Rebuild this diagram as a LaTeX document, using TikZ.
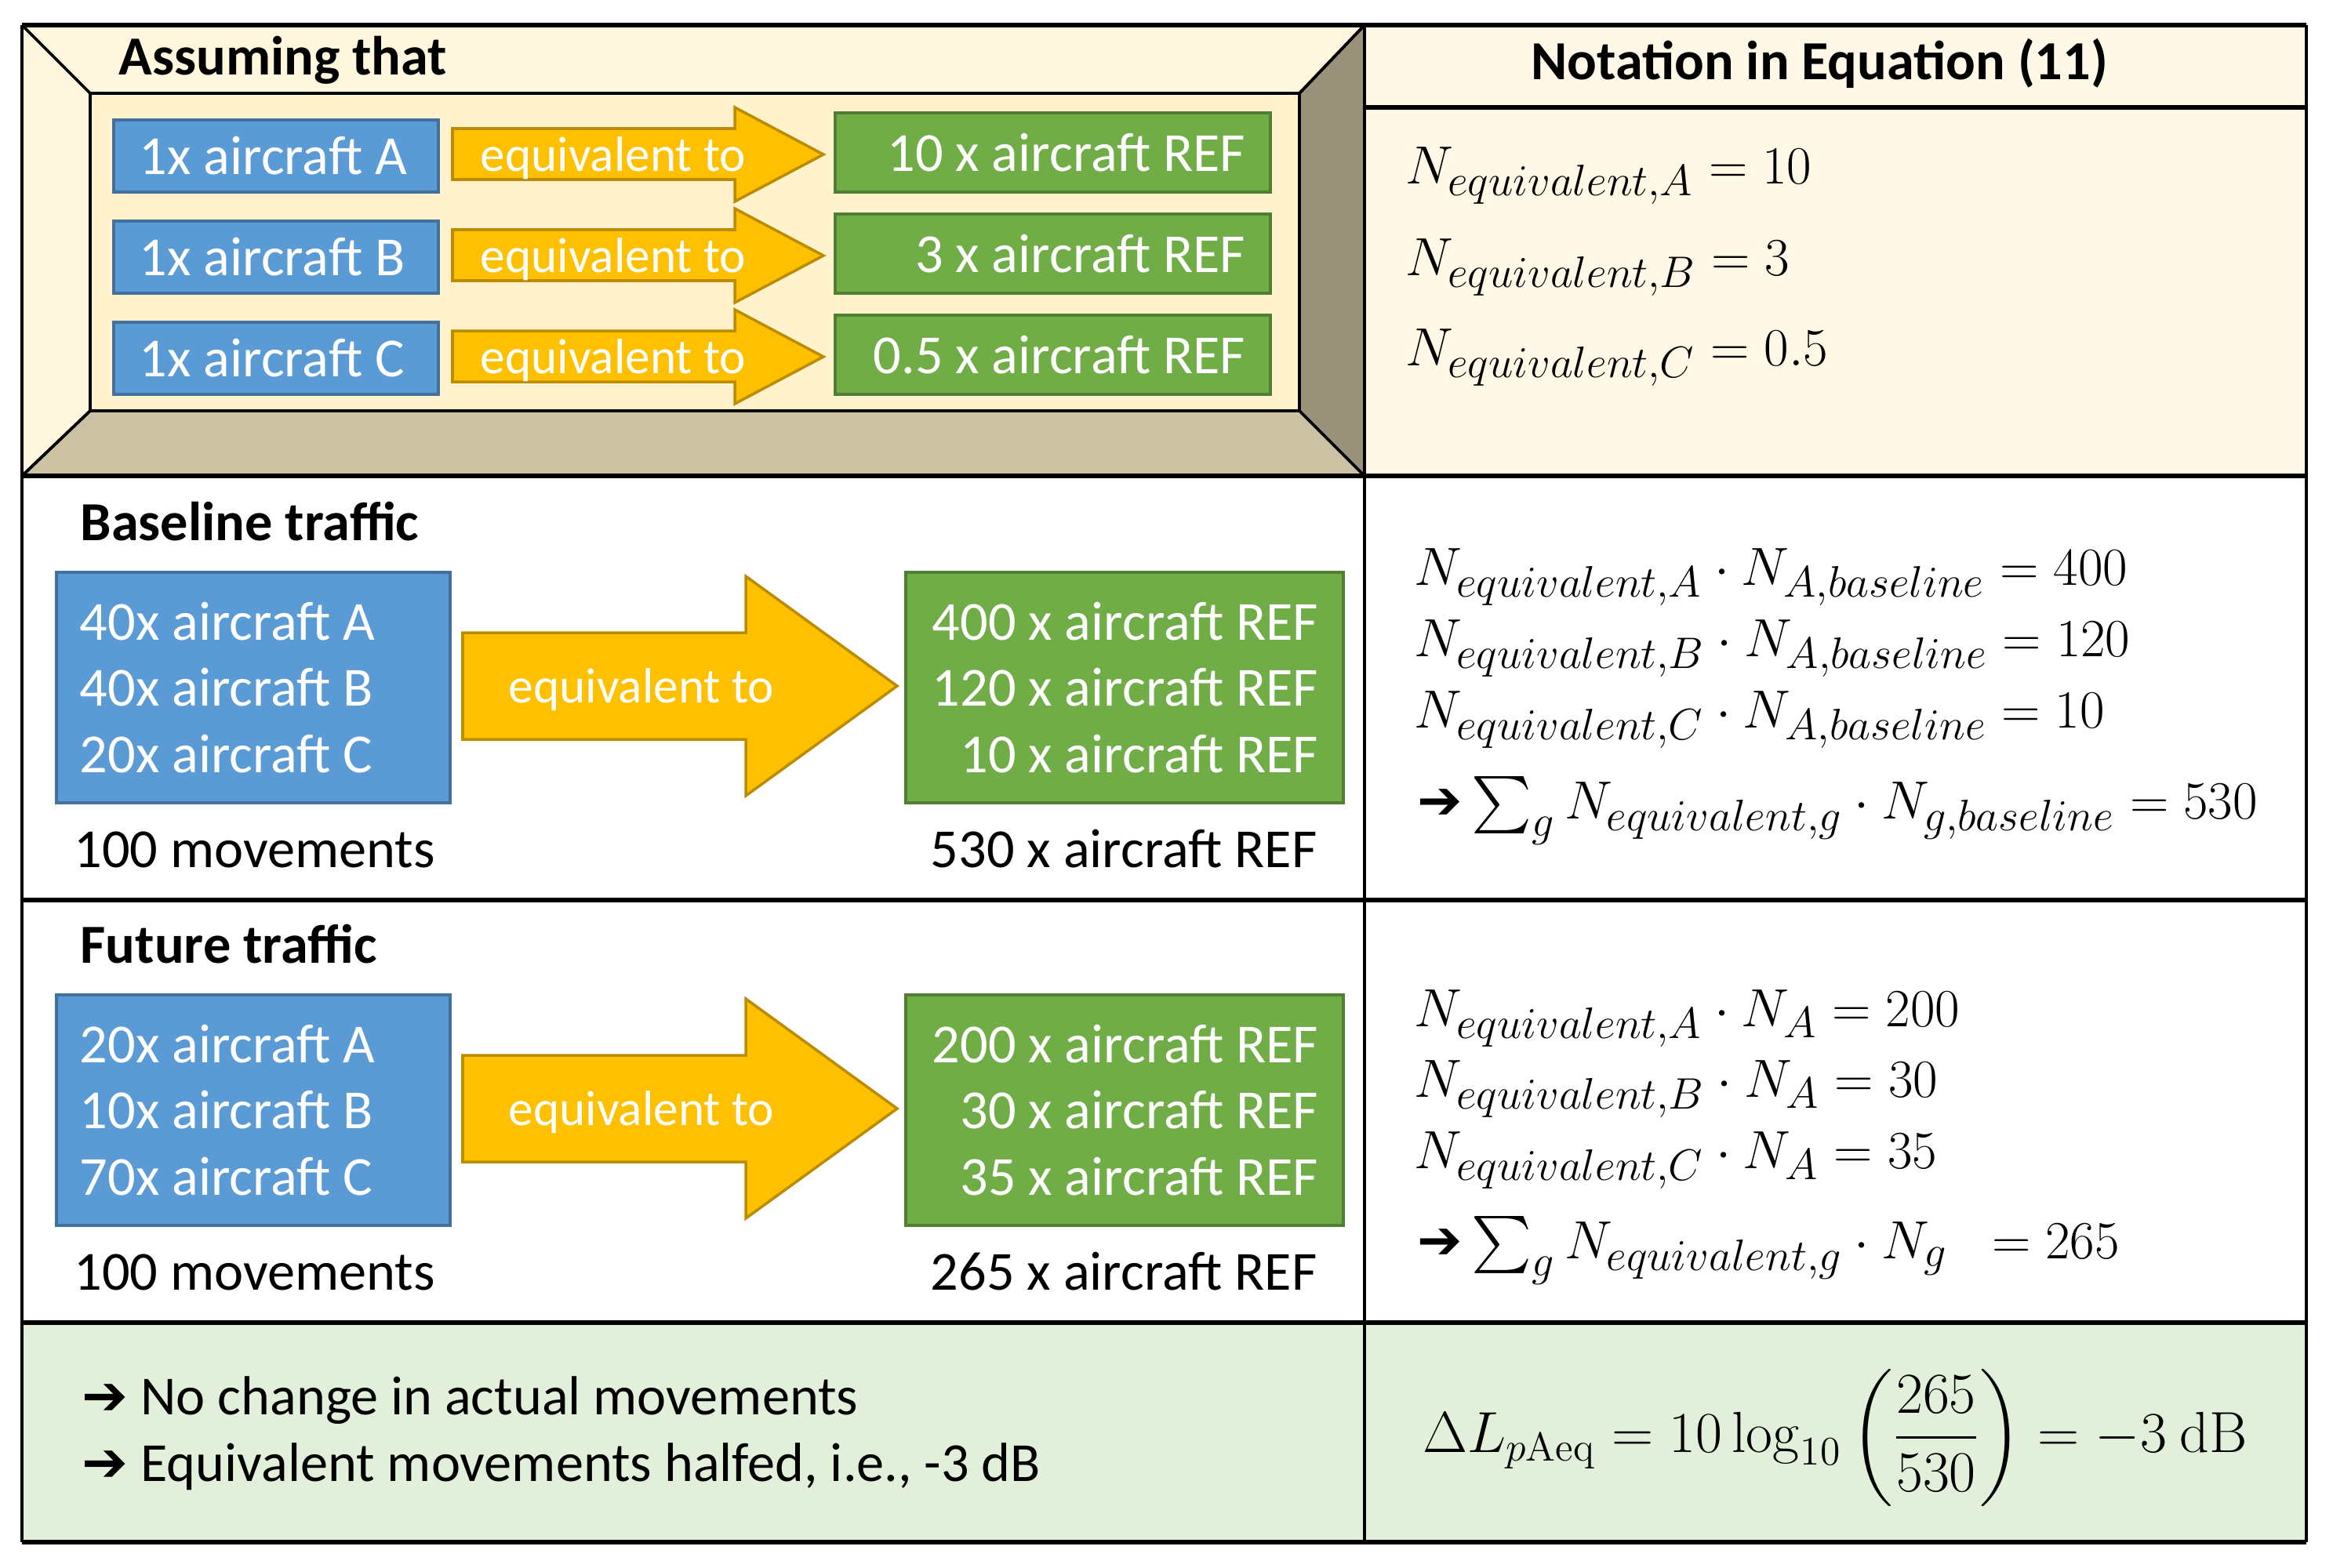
\RequirePackage{fix-cm}
\documentclass[tikz,border=0pt]{standalone}
\usepackage[no-math]{fontspec}
\usepackage{amsmath}
\setmainfont{Carlito}
\newfontfamily\arrowfont{DejaVu Sans}
\newcommand{\thenarrow}{{\arrowfont ➔}}
\DeclareMathSizes{19.5}{19.5}{16}{12}

\definecolor{boxblue}{HTML}{5B9BD5}
\definecolor{boxblueline}{HTML}{41719C}
\definecolor{boxgreen}{HTML}{70AD47}
\definecolor{boxgreenline}{HTML}{507E32}
\definecolor{arrowyellow}{HTML}{FFC000}
\definecolor{arrowline}{HTML}{BC8C00}
\definecolor{bevelface}{HTML}{FFF2CC}
\definecolor{bevellight}{HTML}{FFF6DE}
\definecolor{beveldark}{HTML}{CCC2A3}
\definecolor{bevelshade}{HTML}{99917A}
\definecolor{notefill}{HTML}{FFF8E6}
\definecolor{sumfill}{HTML}{E2EFDA}

\tikzstyle{plain}=[inner sep=0pt, font=\fontsize{20}{24}\selectfont]
\tikzstyle{heading}=[inner sep=0pt, font=\fontsize{20}{24}\selectfont\bfseries]
\tikzstyle{eqn}=[inner sep=0pt, anchor=base west, font=\fontsize{19.5}{23}\selectfont]
\tikzstyle{cell}=[draw, line width=1.1pt, inner sep=0pt]
\tikzstyle{bluecell}=[cell, fill=boxblue, draw=boxblueline]
\tikzstyle{greencell}=[cell, fill=boxgreen, draw=boxgreenline]
\tikzstyle{celltext}=[inner sep=0pt, text=white, font=\fontsize{20}{24}\selectfont]
\tikzstyle{yarrow}=[fill=arrowyellow, draw=arrowline, line width=1pt, line join=miter]
\tikzstyle{arrowtext}=[inner sep=0pt, anchor=base, text=white, font=\fontsize{18}{22}\selectfont]
\tikzstyle{hrule}=[line width=1.8pt]
\tikzstyle{vrule}=[line width=1.3pt]

\begin{document}
\begin{tikzpicture}[x=1cm, y=-1cm]
    \useasboundingbox (0,0) rectangle (29.75,20);

    % cell backgrounds
    \fill[notefill] (17.40,0.32) rectangle (29.41,6.07);
    \fill[sumfill] (0.28,16.87) rectangle (29.41,19.67);

    % bevelled frame round the assumptions
    \fill[bevellight] (0.28,0.32) -- (17.40,0.32) -- (16.57,1.19) -- (1.15,1.19) -- cycle;
    \fill[bevellight] (0.28,0.32) -- (1.15,1.19) -- (1.15,5.24) -- (0.28,6.07) -- cycle;
    \fill[beveldark] (0.28,6.07) -- (1.15,5.24) -- (16.57,5.24) -- (17.40,6.07) -- cycle;
    \fill[bevelshade] (17.40,0.32) -- (17.40,6.07) -- (16.57,5.24) -- (16.57,1.19) -- cycle;
    \filldraw[fill=bevelface, line width=1.1pt] (1.15,1.19) rectangle (16.57,5.24);
    \draw[line width=1.1pt] (0.28,0.32) -- (1.15,1.19);
    \draw[line width=1.1pt] (17.40,0.32) -- (16.57,1.19);
    \draw[line width=1.1pt] (0.28,6.07) -- (1.15,5.24);
    \draw[line width=1.1pt] (17.40,6.07) -- (16.57,5.24);

    \node[heading, anchor=base west] (assume) at (1.51,0.95) {Assuming that};

    \node[bluecell, minimum width=4.14cm, minimum height=0.92cm] (oneA) at (3.52,1.99) {};
    \node[bluecell, minimum width=4.14cm, minimum height=0.92cm] (oneB) at (3.52,3.28) {};
    \node[bluecell, minimum width=4.14cm, minimum height=0.92cm] (oneC) at (3.52,4.57) {};
    \node[celltext, anchor=west] (oneAtext) at ([xshift=0.34cm]oneA.west) {1x aircraft A};
    \node[celltext, anchor=west] (oneBtext) at ([xshift=0.34cm]oneB.west) {1x aircraft B};
    \node[celltext, anchor=west] (oneCtext) at ([xshift=0.34cm]oneC.west) {1x aircraft C};

    \draw[yarrow] (5.77,1.64) -- (9.37,1.64) -- (9.37,1.37) -- (10.50,1.97) -- (9.37,2.57) -- (9.37,2.29) -- (5.77,2.29) -- cycle;
    \draw[yarrow] (5.77,2.93) -- (9.37,2.93) -- (9.37,2.66) -- (10.50,3.26) -- (9.37,3.86) -- (9.37,3.58) -- (5.77,3.58) -- cycle;
    \draw[yarrow] (5.77,4.22) -- (9.37,4.22) -- (9.37,3.95) -- (10.50,4.55) -- (9.37,5.15) -- (9.37,4.87) -- (5.77,4.87) -- cycle;
    \node[arrowtext] (eqA) at (7.82,2.18) {equivalent to};
    \node[arrowtext] (eqB) at (7.82,3.47) {equivalent to};
    \node[arrowtext] (eqC) at (7.82,4.76) {equivalent to};

    \node[greencell, minimum width=5.55cm, minimum height=1.01cm] (refA) at (13.425,1.945) {};
    \node[greencell, minimum width=5.55cm, minimum height=1.01cm] (refB) at (13.425,3.235) {};
    \node[greencell, minimum width=5.55cm, minimum height=1.01cm] (refC) at (13.425,4.525) {};
    \node[celltext, anchor=east] (refAtext) at ([xshift=-0.33cm]refA.east) {10 x aircraft REF};
    \node[celltext, anchor=east] (refBtext) at ([xshift=-0.33cm]refB.east) {3 x aircraft REF};
    \node[celltext, anchor=east] (refCtext) at ([xshift=-0.33cm]refC.east) {0.5 x aircraft REF};

    % notation, top row
    \node[heading, anchor=base] (notation) at (23.20,1.01) {Notation in Equation (11)};
    \node[eqn] (notA) at (17.92,2.34) {$N_{equivalent,A} = 10$};
    \node[eqn] (notB) at (17.92,3.51) {$N_{equivalent,B} = 3$};
    \node[eqn] (notC) at (17.92,4.66) {$N_{equivalent,C} = 0.5$};

    % baseline traffic
    \node[heading, anchor=base west] (baseTitle) at (1.02,6.89) {Baseline traffic};
    \node[bluecell, minimum width=5.02cm, minimum height=2.94cm] (baseMix) at (3.23,8.77) {};
    \node[celltext, anchor=west, align=left] (baseMixText) at ([xshift=0.31cm]baseMix.west) {40x aircraft A\\40x aircraft B\\20x aircraft C};
    \draw[yarrow] (5.90,8.07) -- (9.51,8.07) -- (9.51,7.35) -- (11.44,8.75) -- (9.51,10.15) -- (9.51,9.43) -- (5.90,9.43) -- cycle;
    \node[arrowtext] (baseEq) at (8.18,8.96) {equivalent to};
    \node[greencell, minimum width=5.58cm, minimum height=2.94cm] (baseRefs) at (14.34,8.77) {};
    \node[celltext, anchor=east, align=right] (baseRefsText) at ([xshift=-0.33cm]baseRefs.east) {400 x aircraft REF\\120 x aircraft REF\\10 x aircraft REF};
    \node[plain, anchor=base west] (baseMov) at (0.94,11.06) {100 movements};
    \node[plain, anchor=base east] (baseTot) at (16.80,11.06) {530 x aircraft REF};

    \node[eqn] (baseA) at (18.03,7.46) {$N_{equivalent,A}\cdot N_{A,baseline} = 400$};
    \node[eqn] (baseB) at (18.03,8.37) {$N_{equivalent,B}\cdot N_{A,baseline} = 120$};
    \node[eqn] (baseC) at (18.03,9.28) {$N_{equivalent,C}\cdot N_{A,baseline} = 10$};
    \node[eqn] (baseSum) at (18.07,10.44) {\thenarrow\,$\sum_g N_{equivalent,g}\cdot N_{g,baseline} = 530$};

    % future traffic
    \node[heading, anchor=base west] (futTitle) at (1.02,12.28) {Future traffic};
    \node[bluecell, minimum width=5.02cm, minimum height=2.94cm] (futMix) at (3.23,14.16) {};
    \node[celltext, anchor=west, align=left] (futMixText) at ([xshift=0.31cm]futMix.west) {20x aircraft A\\10x aircraft B\\70x aircraft C};
    \draw[yarrow] (5.90,13.46) -- (9.51,13.46) -- (9.51,12.74) -- (11.44,14.14) -- (9.51,15.54) -- (9.51,14.82) -- (5.90,14.82) -- cycle;
    \node[arrowtext] (futEq) at (8.18,14.35) {equivalent to};
    \node[greencell, minimum width=5.58cm, minimum height=2.94cm] (futRefs) at (14.34,14.16) {};
    \node[celltext, anchor=east, align=right] (futRefsText) at ([xshift=-0.33cm]futRefs.east) {200 x aircraft REF\\30 x aircraft REF\\35 x aircraft REF};
    \node[plain, anchor=base west] (futMov) at (0.94,16.45) {100 movements};
    \node[plain, anchor=base east] (futTot) at (16.80,16.45) {265 x aircraft REF};

    \node[eqn] (futA) at (18.03,13.09) {$N_{equivalent,A}\cdot N_A = 200$};
    \node[eqn] (futB) at (18.03,13.99) {$N_{equivalent,B}\cdot N_A = 30$};
    \node[eqn] (futC) at (18.03,14.90) {$N_{equivalent,C}\cdot N_A = 35$};
    \node[eqn] (futSum) at (18.07,16.05) {\thenarrow\,$\sum_g N_{equivalent,g}\cdot N_g\;\; = 265$};

    % conclusion
    \node[plain, anchor=base west] (conclA) at (1.04,18.04) {\thenarrow\ No change in actual movements};
    \node[plain, anchor=base west] (conclB) at (1.04,18.89) {\thenarrow\ Equivalent movements halfed, i.e., -3 dB};
    \node[eqn, anchor=base, font=\fontsize{21}{25}\selectfont] (deltaL) at (23.40,18.52) {$\displaystyle \Delta L_{p\mathrm{Aeq}} = 10\log_{10}\left(\frac{265}{530}\right) = -3\ \mathrm{dB}$};

    % table rules
    \draw[vrule] (0.28,0.32) -- (0.28,19.67);
    \draw[vrule] (17.40,0.32) -- (17.40,19.67);
    \draw[vrule] (29.41,0.32) -- (29.41,19.67);
    \draw[hrule] (0.28,0.32) -- (29.41,0.32);
    \draw[hrule] (17.40,1.37) -- (29.41,1.37);
    \draw[hrule] (0.28,6.07) -- (29.41,6.07);
    \draw[hrule] (0.28,11.48) -- (29.41,11.48);
    \draw[hrule] (0.28,16.87) -- (29.41,16.87);
    \draw[hrule] (0.28,19.67) -- (29.41,19.67);
\end{tikzpicture}
\end{document}
